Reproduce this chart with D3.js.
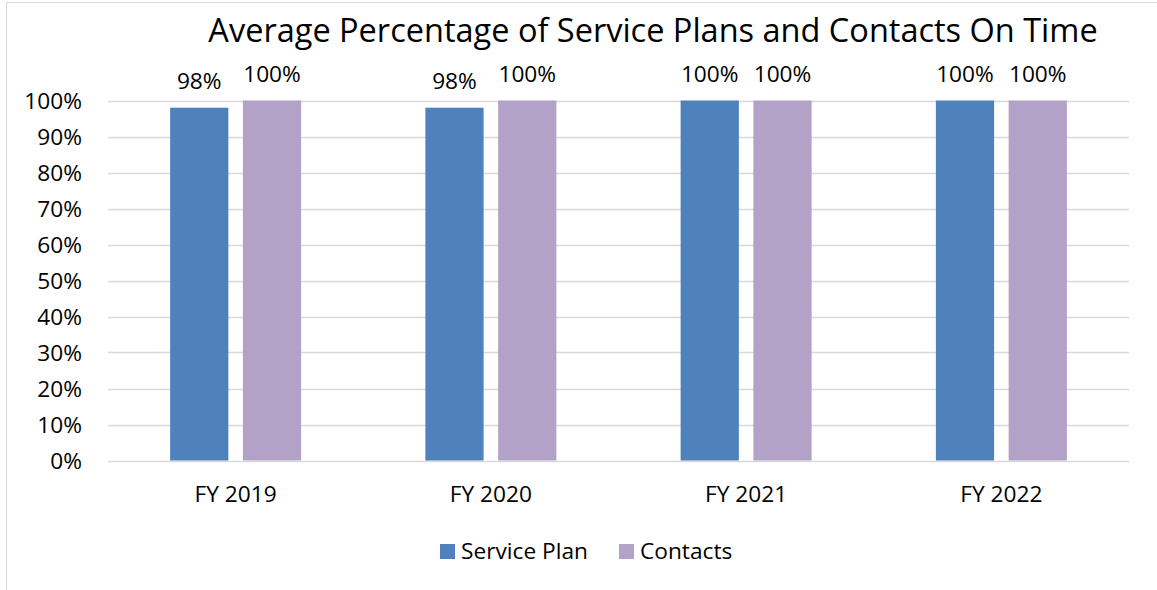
<!DOCTYPE html>
<html><head><meta charset="utf-8">
<script src="https://cdn.jsdelivr.net/npm/d3@7"></script>
<style>body{margin:0;background:#fff;} text{font-family:"Open Sans","Noto Sans",sans-serif;fill:#000;}</style>
</head><body>
<svg id="c" width="1157" height="590"></svg>
<script>
const categories = ["FY 2019","FY 2020","FY 2021","FY 2022"];
const seriesNames = ["Service Plan","Contacts"];
const servicePlan = [98,98,100,100];
const contacts = [100,100,100,100];
const yTicks = [0,10,20,30,40,50,60,70,80,90,100];
const colors = ["#4f81bd","#b2a2c7"];
const fs = "22.7px";

const svg = d3.select("#c");
svg.append("rect").attr("x",6.5).attr("y",2.5).attr("width",1200).attr("height",700)
  .attr("fill","#fff").attr("stroke","#d9d9d9").attr("stroke-width",1);

const x0 = d3.scaleBand().domain(categories).range([108,1129]).paddingInner(0).paddingOuter(0);
const x1 = d3.scaleBand().domain(seriesNames).range([0,131]).paddingInner(0.2).paddingOuter(0);
const y = d3.scaleLinear().domain([0,100]).range([460.5,100.5]);

svg.append("text").attr("x",653).attr("y",42).attr("text-anchor","middle")
  .style("font-size","32.5px").text("Average Percentage of Service Plans and Contacts On Time");

const yAxis = d3.axisLeft(y).tickValues(yTicks).tickFormat(d=>d+"%").tickSize(0).tickPadding(0);
const gy = svg.append("g").attr("transform","translate(82,0)").call(yAxis);
gy.select(".domain").remove();
gy.selectAll("text").style("font-size",fs).attr("dy","0.36em");

svg.append("g").selectAll("line").data(yTicks).join("line")
  .attr("x1",108).attr("x2",1129).attr("y1",d=>Math.round(y(d))+0.5).attr("y2",d=>Math.round(y(d))+0.5)
  .attr("stroke","#d9d9d9").attr("stroke-width",1.5);

const data = categories.map((c,i)=>({cat:c, vals:[servicePlan[i],contacts[i]]}));
const groups = svg.append("g").selectAll("g").data(data).join("g")
  .attr("transform",d=>`translate(${x0(d.cat)+x0.bandwidth()/2-65.5},0)`);
groups.selectAll("rect").data(d=>d.vals.map((v,j)=>({name:seriesNames[j],v,j}))).join("rect")
  .attr("x",d=>x1(d.name)).attr("width",x1.bandwidth())
  .attr("y",d=>y(d.v)).attr("height",d=>y(0)-y(d.v)).attr("fill",d=>colors[d.j]);
groups.selectAll("text.lbl").data(d=>d.vals.map((v,j)=>({name:seriesNames[j],v,j}))).join("text")
  .attr("class","lbl").attr("x",d=>x1(d.name)+x1.bandwidth()/2).attr("y",d=>y(d.v)-18.5)
  .attr("text-anchor","middle").style("font-size",fs).text(d=>d.v+"%");

const xAxis = d3.axisBottom(x0).tickSize(0).tickPadding(0);
const gx = svg.append("g").attr("transform","translate(0,502)").call(xAxis);
gx.select(".domain").remove();
gx.selectAll("text").attr("dy",0).style("font-size",fs);

const legX = [440,619];
const leg = svg.append("g").selectAll("g").data(seriesNames).join("g")
  .attr("transform",(d,i)=>`translate(${legX[i]},544)`);
leg.append("rect").attr("width",15).attr("height",15).attr("fill",(d,i)=>colors[i]);
leg.append("text").attr("x",21).attr("y",15).style("font-size",fs).text(d=>d);
</script>
</body></html>
